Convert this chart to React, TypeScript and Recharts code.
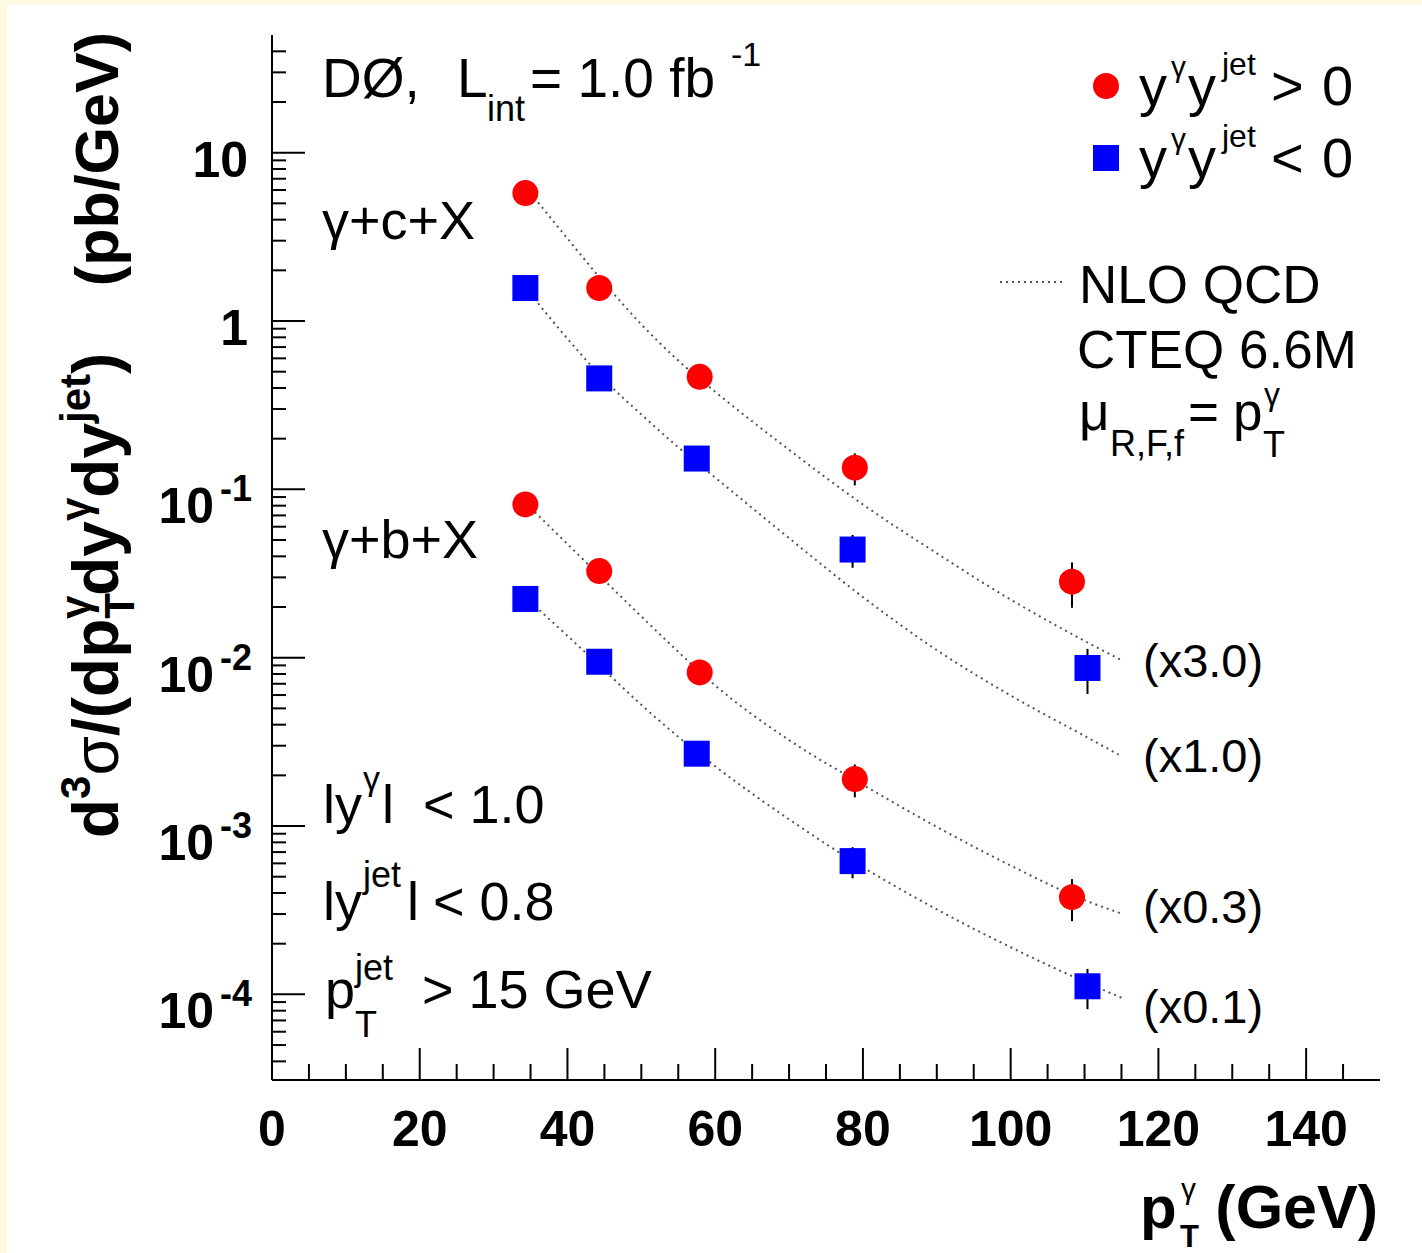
import React from "react";
import { ComposedChart, Line, Scatter, XAxis, YAxis, ErrorBar } from "recharts";

// measured points (pT in GeV, cross section in pb/GeV, already scaled)
const ptRed = [34.3, 44.3, 57.9, 78.9, 108.3];
const ptBlue = [34.3, 44.3, 57.5, 78.6, 110.4];

const charmSame = [5.75, 1.57, 0.466, 0.1346, 0.0283];
const charmSameErr = [0.46, 0.14, 0.056, 0.029, 0.0085];
const charmOpp = [1.57, 0.456, 0.1524, 0.0439, 0.00869];
const charmOppErr = [0.13, 0.041, 0.018, 0.0097, 0.0026];
const bottomSame = [0.0814, 0.0327, 0.00818, 0.0019, 0.000378];
const bottomSameErr = [0.0065, 0.0029, 0.001, 0.00042, 0.000106];
const bottomOpp = [0.02233, 0.00946, 0.00269, 0.000619, 0.0001117];
const bottomOppErr = [0.0018, 0.00085, 0.00032, 0.00013, 0.00003];

// NLO QCD curves
const nloPt = [35, 40, 45, 50, 55, 60, 70, 80, 90, 100, 110, 115];
const nloCharmSame = [5.75, 3.09, 1.679, 0.955, 0.582, 0.38, 0.1718, 0.0813, 0.0417, 0.02213, 0.01259, 0.00966];
const nloCharmOpp = [1.445, 0.785, 0.447, 0.2786, 0.1778, 0.1175, 0.0513, 0.0229, 0.01109, 0.00596, 0.00343, 0.0026];
const nloBottomSame = [0.0776, 0.0473, 0.0288, 0.01758, 0.01084, 0.00684, 0.00324, 0.001758, 0.000989, 0.000582, 0.000363, 0.000302];
const nloBottomOpp = [0.0214, 0.01349, 0.00841, 0.00525, 0.00339, 0.002265, 0.001096, 0.000569, 0.00032, 0.0001905, 0.0001189, 0.0000955];

// axes
const xTicks = [0, 5, 10, 15, 20, 25, 30, 35, 40, 45, 50, 55, 60, 65, 70, 75, 80, 85, 90, 95, 100, 105, 110, 115, 120, 125, 130, 135, 140, 145];
const xMajor = [0, 20, 40, 60, 80, 100, 120, 140];
const yMajor = [1e-4, 1e-3, 1e-2, 1e-1, 1, 10];
const yBase = ["10", "10", "10", "10", "1", "10"];
const yExp = ["-4", "-3", "-2", "-1", "", ""];
const yMinorMult = [2, 3, 4, 5, 6, 7, 8, 9];
const yDecades = [1e-5, 1e-4, 1e-3, 1e-2, 1e-1, 1, 10];
const yDomain: [number, number] = [3.1e-5, 50];

const yTicks = [
  ...yMajor,
  ...yDecades.flatMap((d) => yMinorMult.map((m) => m * d)),
].filter((v) => v > yDomain[0] && v < yDomain[1]);

const FONT = "'Liberation Sans', Arial, Helvetica, sans-serif";

const pts = (xs: number[], ys: number[], errs?: number[]) =>
  xs.map((x, i) => ({ x, y: ys[i], err: errs ? errs[i] : 0 }));

const majorIndex = (v: number) =>
  yMajor.findIndex((m) => Math.abs(v - m) / m < 1e-6);

function YTick(props: any) {
  const { x, y, payload } = props;
  const i = majorIndex(payload.value);
  const major = i >= 0;
  return (
    <g>
      <line x1={x} y1={y} x2={x + (major ? 33 : 14)} y2={y} stroke="#000" strokeWidth={2} />
      {major && yExp[i] === "" && (
        <text x={248} y={y + 24} textAnchor="end" fontSize={50} fontWeight="bold" fontFamily={FONT}>
          {yBase[i]}
        </text>
      )}
      {major && yExp[i] !== "" && (
        <g fontWeight="bold" fontFamily={FONT}>
          <text x={214} y={y + 34} textAnchor="end" fontSize={50}>{yBase[i]}</text>
          <text x={252} y={y + 12} textAnchor="end" fontSize={36}>{yExp[i]}</text>
        </g>
      )}
    </g>
  );
}

function XTick(props: any) {
  const { x, y, payload } = props;
  const major = xMajor.includes(payload.value);
  return (
    <g>
      <line x1={x} y1={y} x2={x} y2={y - (major ? 32 : 16)} stroke="#000" strokeWidth={2} />
      {major && (
        <text x={x} y={1146} textAnchor="middle" fontSize={50} fontWeight="bold" fontFamily={FONT}>
          {payload.value}
        </text>
      )}
    </g>
  );
}

const RedDot = (p: any) => <circle cx={p.cx} cy={p.cy} r={13} fill="#ff0000" />;
const BlueSquare = (p: any) => <rect x={p.cx - 13} y={p.cy - 13} width={26} height={26} fill="#0000ff" />;

const dotted = { stroke: "#555", strokeWidth: 2, strokeDasharray: "2 4" };

function T({ x, y, s = 54, w, a, children }: any) {
  return (
    <text x={x} y={y} fontSize={s} fontWeight={w} textAnchor={a}>
      {children}
    </text>
  );
}

function LegendRow({ y, sign }: { y: number; sign: string }) {
  return (
    <g>
      <T x={1139} y={y} s={56}>y</T>
      <T x={1171} y={y - 28} s={30}>γ</T>
      <T x={1188} y={y} s={56}>y</T>
      <T x={1222} y={y - 30} s={32}>jet</T>
      <T x={1271} y={y} s={56}>{sign}</T>
      <T x={1322} y={y} s={56}>0</T>
    </g>
  );
}

export default function App() {
  const curves = [nloCharmSame, nloCharmOpp, nloBottomSame, nloBottomOpp];
  const sets = [
    { d: pts(ptRed, charmSame, charmSameErr), shape: RedDot },
    { d: pts(ptBlue, charmOpp, charmOppErr), shape: BlueSquare },
    { d: pts(ptRed, bottomSame, bottomSameErr), shape: RedDot },
    { d: pts(ptBlue, bottomOpp, bottomOppErr), shape: BlueSquare },
  ];
  return (
    <div style={{ position: "absolute", left: 0, top: 0, width: 1422, height: 1253, background: "#fef9e1", overflow: "hidden" }}>
      <div style={{ position: "absolute", left: 7, top: 5, right: 0, bottom: 0, background: "#fff" }} />
      <div style={{ position: "absolute", left: 0, top: 0 }}>
        <ComposedChart width={1422} height={1253} margin={{ top: 35, right: 42, bottom: 0, left: 0 }}>
          <XAxis
            dataKey="x"
            type="number"
            domain={[0, 150]}
            allowDataOverflow
            ticks={xTicks}
            interval={0}
            height={173}
            tickSize={0}
            tickMargin={0}
            tickLine={false}
            tick={(p: any) => <XTick {...p} />}
            axisLine={{ stroke: "#000", strokeWidth: 2 }}
          />
          <XAxis xAxisId="top" orientation="top" type="number" domain={[0, 150]} height={0} tick={false} tickLine={false} axisLine={{ stroke: "#000", strokeWidth: 2 }} />
          <YAxis
            type="number"
            scale="log"
            domain={yDomain}
            allowDataOverflow
            ticks={yTicks}
            interval={0}
            width={272}
            tickSize={0}
            tickMargin={0}
            tickLine={false}
            tick={(p: any) => <YTick {...p} />}
            axisLine={{ stroke: "#000", strokeWidth: 2 }}
          />
          <YAxis yAxisId="right" orientation="right" type="number" domain={[0, 1]} width={0} tick={false} tickLine={false} axisLine={{ stroke: "#000", strokeWidth: 2 }} />
          {curves.map((c, i) => (
            <Line
              key={"nlo" + i}
              data={pts(nloPt, c)}
              dataKey="y"
              type="monotone"
              {...dotted}
              dot={false}
              activeDot={false}
              isAnimationActive={false}
            />
          ))}
          {sets.map((s, i) => (
            <Scatter key={"pts" + i} data={s.d} dataKey="y" shape={s.shape} isAnimationActive={false}>
              <ErrorBar dataKey="err" direction="y" width={0} stroke="#000" strokeWidth={2} />
            </Scatter>
          ))}
        </ComposedChart>
      </div>
      <svg width={1422} height={1253} style={{ position: "absolute", left: 0, top: 0, pointerEvents: "none" }} fontFamily={FONT}>
        {/* header */}
        <T x={322} y={97} s={55}>DØ,</T>
        <T x={457} y={97} s={55}>L</T>
        <T x={487} y={121} s={36}>int</T>
        <T x={530} y={97} s={55}>= 1.0 fb</T>
        <T x={731} y={66} s={34}>-1</T>
        <T x={322} y={239}>γ+c+X</T>
        <T x={322} y={558}>γ+b+X</T>
        {/* cuts */}
        <T x={323} y={823}>l</T>
        <T x={335} y={823}>y</T>
        <T x={363} y={790} s={34}>γ</T>
        <T x={382} y={823}>l</T>
        <T x={423} y={823}>{"< 1.0"}</T>
        <T x={323} y={920}>l</T>
        <T x={335} y={920}>y</T>
        <T x={363} y={887} s={36}>jet</T>
        <T x={407} y={920}>l</T>
        <T x={433} y={920}>{"< 0.8"}</T>
        <T x={325} y={1008}>p</T>
        <T x={355} y={980} s={36}>jet</T>
        <T x={355} y={1037} s={36}>T</T>
        <T x={422} y={1008}>{"> 15 GeV"}</T>
        {/* legend */}
        <circle cx={1106} cy={86} r={13} fill="#ff0000" />
        <rect x={1093} y={145} width={26} height={26} fill="#0000ff" />
        <LegendRow y={105} sign=">" />
        <LegendRow y={177} sign="<" />
        <line x1={1000} y1={282} x2={1062} y2={282} {...dotted} />
        <T x={1079} y={303} s={53}>NLO QCD</T>
        <T x={1077} y={368} s={53}>CTEQ 6.6M</T>
        <T x={1079} y={430} s={53}>μ</T>
        <T x={1110} y={456} s={36}>R,F,f</T>
        <T x={1188} y={430} s={53}>=</T>
        <T x={1233} y={430} s={53}>p</T>
        <T x={1264} y={405} s={32}>γ</T>
        <T x={1263} y={457} s={36}>T</T>
        {/* scale factors */}
        <T x={1143} y={677} s={47}>(x3.0)</T>
        <T x={1143} y={772} s={47}>(x1.0)</T>
        <T x={1143} y={923} s={47}>(x0.3)</T>
        <T x={1143} y={1023} s={47}>(x0.1)</T>
        {/* x title */}
        <T x={1140} y={1228} s={60} w="bold">p</T>
        <T x={1181} y={1199} s={30}>γ</T>
        <T x={1180} y={1247} s={31} w="bold">T</T>
        <T x={1378} y={1228} s={61} w="bold" a="end">(GeV)</T>
        {/* y title */}
        <text transform="rotate(-90)" x={-32} y={118} textAnchor="end" fontSize={61} fontWeight="bold">
          (pb/GeV)
        </text>
        <text transform="rotate(-90)" x={-838} y={118} fontSize={64} fontWeight="bold">
          d
          <tspan dy={-28} fontSize={42}>3</tspan>
          <tspan dy={28} fontWeight="normal">σ</tspan>
          <tspan>/(dp</tspan>
          <tspan dy={16} fontSize={42}>T</tspan>
          <tspan dx={-26} dy={-44} fontSize={42}>γ</tspan>
          <tspan dy={28}>dy</tspan>
          <tspan dy={-28} fontSize={42}>γ</tspan>
          <tspan dy={28}>dy</tspan>
          <tspan dy={-28} fontSize={42}>jet</tspan>
          <tspan dy={28}>)</tspan>
        </text>
      </svg>
    </div>
  );
}
